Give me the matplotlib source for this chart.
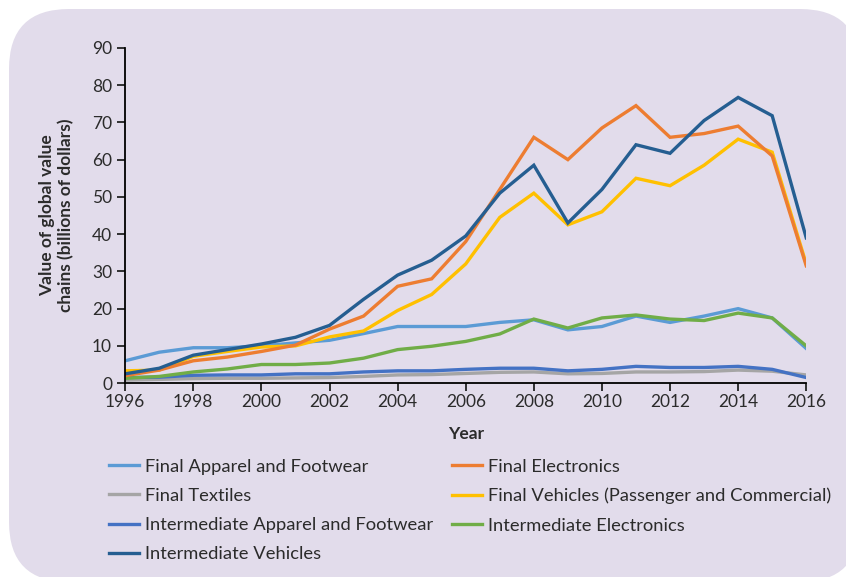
import numpy as np
import matplotlib.pyplot as plt
from matplotlib.patches import FancyBboxPatch
from matplotlib.transforms import IdentityTransform

plt.rcParams['font.family'] = ['Lato', 'DejaVu Sans']

years = list(range(1996, 2017))

final_apparel = [6, 8.3, 9.5, 9.5, 10, 10.8, 11.5, 13.3, 15.2, 15.2, 15.2,
                 16.3, 17, 14.3, 15.2, 18, 16.3, 18, 20, 17.5, 9.3]
final_electronics = [2, 3.5, 6, 7, 8.5, 10.2, 14.5, 18, 26, 28, 38,
                     52, 66, 60, 68.5, 74.5, 66, 67, 69, 61, 31.5]
final_textiles = [0.8, 1, 1.2, 1.3, 1.3, 1.4, 1.5, 1.8, 2.2, 2.3, 2.6,
                  2.9, 3, 2.5, 2.6, 3.0, 3.0, 3.1, 3.5, 3.2, 2.2]
final_vehicles = [3.3, 3.5, 7.2, 8.5, 9.7, 10, 12.4, 14, 19.5, 23.8, 32,
                  44.5, 51, 42.5, 46, 55, 53, 58.5, 65.5, 62, 32]
inter_apparel = [1.5, 1.6, 2.1, 2.2, 2.2, 2.5, 2.5, 3, 3.3, 3.3, 3.7,
                 4.0, 4.0, 3.3, 3.7, 4.5, 4.2, 4.2, 4.5, 3.7, 1.5]
inter_electronics = [1.3, 1.8, 3, 3.8, 5, 5, 5.4, 6.7, 9, 9.9, 11.2,
                     13.2, 17.2, 14.8, 17.5, 18.3, 17.2, 16.8, 18.8, 17.5, 10]
inter_vehicles = [2.5, 4, 7.5, 9, 10.5, 12.3, 15.5, 22.5, 29, 33, 39.5,
                  51, 58.5, 43, 52, 64, 61.7, 70.5, 76.7, 71.8, 39]

labels = ["Final Apparel and Footwear", "Final Electronics", "Final Textiles",
          "Final Vehicles (Passenger and Commercial)",
          "Intermediate Apparel and Footwear", "Intermediate Electronics",
          "Intermediate Vehicles"]
series = [final_apparel, final_electronics, final_textiles, final_vehicles,
          inter_apparel, inter_electronics, inter_vehicles]
colors = ["#5B9BD5", "#ED7D31", "#A5A5A5", "#FFC000",
          "#4472C4", "#70AD47", "#255E91"]

bg = "#E2DCEB"
txt = "#2B2B2B"
fig = plt.figure(figsize=(8.46, 5.77), dpi=100, facecolor="white")

# rounded lavender panel behind everything (display pixels)
panel = FancyBboxPatch((9, -5), 851, 573, boxstyle="round,pad=0,rounding_size=60",
                       transform=IdentityTransform(), facecolor=bg, edgecolor="none",
                       zorder=-5)
fig.patches.append(panel)

ax = fig.add_axes([0.148, 0.336, 0.805, 0.581])
ax.patch.set_visible(False)
ax.set_zorder(1)

handles = {}
# draw order: small series first, vehicles on top
order = [2, 4, 0, 5, 3, 1, 6]
for i in order:
    h, = ax.plot(years, series[i], color=colors[i], lw=2.4, label=labels[i],
                 solid_joinstyle="miter")
    handles[i] = h

ax.set_xlim(1996, 2016)
ax.set_ylim(0, 90)
ax.set_xticks(range(1996, 2017, 2))
ax.set_yticks(range(0, 91, 10))
ax.spines['top'].set_visible(False)
ax.spines['right'].set_visible(False)
ax.spines['left'].set_linewidth(1.3)
ax.spines['bottom'].set_linewidth(1.3)
ax.tick_params(axis='both', labelsize=12.5, length=6, width=1.3, colors='#222222',
               labelcolor=txt)
ax.tick_params(axis='x', pad=2)

ax.set_xlabel("Year", fontsize=12.5, fontweight='bold', labelpad=11, color=txt)
ax.set_ylabel("Value of global value\nchains (billions of dollars)", fontsize=12.5,
              fontweight='bold', labelpad=13, linespacing=1.2, color=txt)

# legend: column-major fill, so reorder for row-major look
leg_order = [0, 2, 4, 6, 1, 3, 5]
leg = fig.legend([handles[i] for i in leg_order], [labels[i] for i in leg_order],
                 ncol=2, loc='upper left', bbox_to_anchor=(0.120, 0.218),
                 frameon=False, fontsize=13.2, handlelength=1.65, handletextpad=0.3,
                 columnspacing=1.05, labelspacing=0.72, borderaxespad=0,
                 labelcolor=txt)

fig.savefig("out.png", dpi=100, facecolor="white")
